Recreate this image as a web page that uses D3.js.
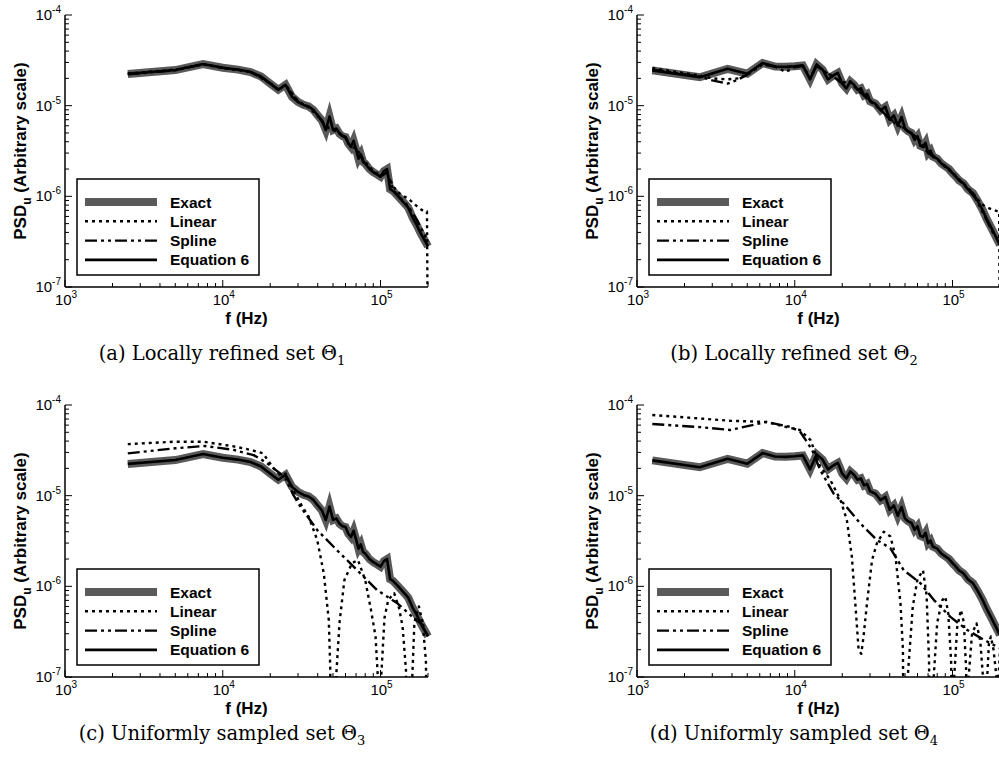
<!DOCTYPE html>
<html>
<head>
<meta charset="utf-8">
<script src="https://cdn.jsdelivr.net/npm/d3@7"></script>
<style>
  body { margin: 0; background: #fff; }
  text { font-family: "Liberation Sans", Arial, sans-serif; }
  text.caption { font-family: "DejaVu Serif", serif; }
</style>
</head>
<body>
<script>
// ---- data (frequency in Hz, PSD in arbitrary units) ----
// "exact" spectrum on the 2500 Hz grid, panels (a) and (c)
var freqCoarse = [2500, 5000, 7500, 10000, 12500, 15000, 17500, 20000, 22500, 25000, 27500, 30000,
  32500, 35000, 37500, 40000, 42500, 45000, 47500, 50000, 52500, 55000, 57500, 60000, 62500, 65000,
  67500, 70000, 72500, 75000, 77500, 80000, 85000, 90000, 95000, 100000, 105000, 110000, 115000,
  120000, 130000, 140000, 150000, 160000, 170000, 180000, 190000, 200000];
var exactCoarse = [2.24e-5, 2.47e-5, 2.88e-5, 2.62e-5, 2.5e-5, 2.35e-5, 2.1e-5, 1.75e-5, 1.5e-5, 1.7e-5, 1.25e-5, 1.1e-5,
  1.02e-5, 9.8e-6, 9.0e-6, 7.8e-6, 6.9e-6, 5.4e-6, 7.6e-6, 5.4e-6, 5.6e-6, 4.9e-6, 4.6e-6, 4.5e-6, 3.8e-6, 3.5e-6,
  4.1e-6, 3.3e-6, 2.6e-6, 2.9e-6, 2.4e-6, 2.3e-6, 2.0e-6, 1.85e-6, 1.75e-6, 1.65e-6, 1.9e-6, 2.0e-6, 1.2e-6,
  1.15e-6, 9.9e-7, 8.6e-7, 7.5e-7, 5.8e-7, 4.8e-7, 3.9e-7, 3.3e-7, 2.8e-7];

// "exact" spectrum on the 1250 Hz grid, panels (b) and (d)
var freqFine = [1250, 2500, 3750, 5000, 6250, 7500, 8750, 10000, 11250, 12500, 13750, 15000, 16250,
  17500, 18750, 20000, 21250, 22500, 23750, 25000, 26250, 27500, 28750, 30000, 32500, 35000, 37500,
  40000, 42500, 45000, 47500, 50000, 52500, 55000, 57500, 60000, 62500, 65000, 67500, 70000, 72500,
  75000, 80000, 85000, 90000, 95000, 100000, 105000, 110000, 117500, 125000, 135000, 145000, 155000,
  165000, 175000, 185000, 200000];
var exactFine = [2.45e-5, 2.06e-5, 2.55e-5, 2.25e-5, 2.95e-5, 2.7e-5, 2.68e-5, 2.72e-5, 2.78e-5, 1.95e-5, 2.85e-5, 2.5e-5, 1.95e-5,
  2.15e-5, 2.3e-5, 1.75e-5, 1.55e-5, 1.85e-5, 1.7e-5, 1.5e-5, 1.55e-5, 1.3e-5, 1.35e-5, 1.12e-5, 1.05e-5, 8.9e-6, 9.7e-6,
  7.0e-6, 7.8e-6, 6.0e-6, 7.5e-6, 5.6e-6, 5.2e-6, 5.0e-6, 4.2e-6, 4.6e-6, 3.6e-6, 3.5e-6, 3.9e-6, 3.0e-6, 3.2e-6,
  2.75e-6, 2.6e-6, 2.3e-6, 2.14e-6, 2.0e-6, 1.8e-6, 1.65e-6, 1.5e-6, 1.39e-6, 1.2e-6, 1.08e-6, 8.8e-7, 7.1e-7,
  5.6e-7, 4.6e-7, 3.8e-7, 2.9e-7];

// panel (a)
var linearAF = [2500, 5000, 7500, 10000, 15000, 20000, 22500, 25000, 30000, 35000, 40000, 45000, 50000, 55000,
  60000, 65000, 70000, 80000, 90000, 100000, 110000, 120000, 130000, 140000, 150000, 160000, 170000, 180000,
  190000, 197000, 200000];
var linearAV = [2.26e-5, 2.5e-5, 2.85e-5, 2.6e-5, 2.38e-5, 1.78e-5, 1.52e-5, 1.7e-5, 1.12e-5, 9.6e-6, 7.7e-6, 6.0e-6,
  5.5e-6, 5.0e-6, 4.4e-6, 3.5e-6, 3.4e-6, 2.4e-6, 1.9e-6, 1.7e-6, 1.8e-6, 1.3e-6, 1.1e-6, 1.0e-6, 9.5e-7, 8.5e-7,
  7.8e-7, 7.2e-7, 6.8e-7, 6.8e-7, 1e-8];
var splineAF = [2500, 5000, 7500, 10000, 15000, 20000, 22500, 25000, 30000, 35000, 40000, 45000, 50000, 55000,
  60000, 65000, 70000, 80000, 90000, 100000, 110000, 120000, 130000, 140000, 150000, 160000, 170000, 180000,
  190000, 200000];
var splineAV = [2.22e-5, 2.45e-5, 2.86e-5, 2.62e-5, 2.36e-5, 1.76e-5, 1.5e-5, 1.68e-5, 1.1e-5, 9.7e-6, 7.8e-6, 5.8e-6,
  5.4e-6, 4.9e-6, 4.5e-6, 3.5e-6, 3.3e-6, 2.3e-6, 1.85e-6, 1.65e-6, 1.85e-6, 1.2e-6, 1.0e-6, 8.8e-7, 7.8e-7, 6.5e-7,
  5.5e-7, 4.5e-7, 3.8e-7, 3.2e-7];

// panel (b)
var linearBF = [1250, 2500, 3000, 3750, 4400, 5000, 6250, 7500, 8750, 10000, 11250, 12500, 13750, 15000, 17500,
  20000, 22500, 25000, 30000, 35000, 40000, 45000, 50000, 55000, 60000, 70000, 80000, 90000, 100000, 110000,
  125000, 140000, 150000, 160000, 170000, 180000, 190000, 197500, 200000];
var linearBV = [2.6e-5, 2.15e-5, 2.0e-5, 1.95e-5, 2.0e-5, 2.2e-5, 2.9e-5, 2.7e-5, 2.65e-5, 2.7e-5, 2.75e-5, 2.0e-5,
  2.8e-5, 2.45e-5, 2.1e-5, 1.8e-5, 1.85e-5, 1.5e-5, 1.15e-5, 9.0e-6, 7.2e-6, 6.2e-6, 5.6e-6, 4.9e-6, 4.4e-6, 3.1e-6,
  2.6e-6, 2.15e-6, 1.85e-6, 1.55e-6, 1.25e-6, 1.0e-6, 8.5e-7, 7.8e-7, 7.4e-7, 7.1e-7, 6.9e-7, 6.8e-7, 1e-8];
var splineBF = [1250, 2500, 3000, 3750, 4400, 5000, 6250, 7500, 8750, 10000, 11250, 12500, 13750, 15000, 17500,
  20000, 22500, 25000, 30000, 35000, 40000, 45000, 50000, 60000, 70000, 80000, 90000, 100000, 120000, 140000,
  160000, 180000, 200000];
var splineBV = [2.5e-5, 2.1e-5, 1.9e-5, 1.75e-5, 1.95e-5, 2.2e-5, 2.85e-5, 2.7e-5, 2.35e-5, 2.65e-5, 2.75e-5, 2.0e-5,
  2.75e-5, 2.45e-5, 2.1e-5, 1.75e-5, 1.8e-5, 1.5e-5, 1.12e-5, 9.0e-6, 7.1e-6, 6.1e-6, 5.5e-6, 4.4e-6, 3.0e-6, 2.55e-6,
  2.1e-6, 1.8e-6, 1.3e-6, 9.5e-7, 6.0e-7, 4.0e-7, 3.1e-7];

// panel (c)
var linearCF = [2500, 5000, 7500, 11700, 15000, 18000, 21000, 23000, 25000, 28000, 32000, 35000, 39700, 43700,
  47000, 48000, 49000, 52500, 55000, 59000, 66000, 72000, 80000, 87000, 93000, 96500, 98500, 101000, 106000,
  112000, 122000, 131000, 138000, 145000, 148000, 159000, 164000, 175000, 185000, 194000, 200000];
var linearCV = [3.7e-5, 3.94e-5, 3.94e-5, 3.5e-5, 3.2e-5, 2.93e-5, 2.0e-5, 1.7e-5, 1.75e-5, 1.15e-5, 7.5e-6, 5.9e-6,
  3.24e-6, 1.39e-6, 4.25e-7, 1.3e-7, 1e-9, 1.1e-7, 4e-7, 1.17e-6, 1.8e-6, 1.95e-6, 1.17e-6, 5.5e-7, 2.8e-7, 9e-8,
  1e-9, 1e-7, 4.5e-7, 7.1e-7, 8.4e-7, 5.8e-7, 3.6e-7, 1.2e-7, 1e-9, 1e-7, 4e-7, 6e-7, 4e-7, 1.5e-7, 1e-9];
var splineCF = [2500, 5000, 7700, 11700, 15700, 19000, 23000, 25000, 28000, 31000, 39700, 53000, 71000, 95000,
  128000, 163000, 198000];
var splineCV = [2.93e-5, 3.33e-5, 3.53e-5, 3.2e-5, 2.8e-5, 2.3e-5, 1.77e-5, 1.55e-5, 1.02e-5, 7.6e-6, 4.17e-6,
  2.5e-6, 1.51e-6, 9.1e-7, 6.5e-7, 4.44e-7, 3.44e-7];

// panel (d)
var linearDF = [1250, 2500, 3900, 6600, 8500, 10800, 12600, 14500, 16800, 19500, 21400, 23000, 24200, 25400,
  26400, 27300, 28700, 30900, 33200, 36700, 40400, 43500, 46800, 48500, 49500, 52000, 56000, 60000, 65000,
  68500, 71000, 72500, 76000, 80000, 86000, 90000, 94000, 98000, 100500, 102500, 107000, 113000, 118000,
  122000, 124000, 126500, 133000, 142000, 150000, 156000, 158000, 166000, 170000, 175000, 182000, 190000,
  193000, 196000, 200000];
var linearDV = [7.75e-5, 7.1e-5, 6.7e-5, 6.5e-5, 5.8e-5, 5.3e-5, 4.1e-5, 2.09e-5, 1.49e-5, 8.95e-6, 5.37e-6, 2.14e-6,
  6.5e-7, 2e-7, 1.8e-7, 2.8e-7, 6.5e-7, 1.95e-6, 3.0e-6, 4.0e-6, 3.55e-6, 2.14e-6, 6.5e-7, 2e-7, 1e-9, 1e-7, 6e-7,
  1.2e-6, 1.5e-6, 8e-7, 1.5e-7, 1e-9, 1e-7, 4e-7, 7e-7, 7.7e-7, 5e-7, 1.5e-7, 1e-9, 1e-7, 3.5e-7, 5.5e-7, 4e-7,
  1.2e-7, 1e-9, 1e-7, 3e-7, 3.9e-7, 2.5e-7, 1e-7, 1e-9, 1e-7, 2.3e-7, 2.8e-7, 2e-7, 1e-7, 1e-9, 1e-7, 2e-7];
var splineDF = [1250, 2500, 3900, 6600, 9300, 10800, 12900, 14500, 17600, 20400, 26000, 33200, 40400, 49000,
  62700, 76000, 97000, 124000, 158000, 198000];
var splineDV = [6.17e-5, 5.7e-5, 5.3e-5, 6.5e-5, 5.75e-5, 5.1e-5, 3.19e-5, 1.92e-5, 1.06e-5, 8.2e-6, 4.95e-6, 3.24e-6,
  2.63e-6, 1.51e-6, 1.08e-6, 7.1e-7, 4.6e-7, 3.3e-7, 2.57e-7, 2.1e-7];

var legendNames = ["Exact", "Linear", "Spline", "Equation 6"];
var captions = [
  ["(a)  Locally refined set \u0398", "1"],
  ["(b)  Locally refined set \u0398", "2"],
  ["(c)  Uniformly sampled set \u0398", "3"],
  ["(d)  Uniformly sampled set \u0398", "4"]
];

function zip(f, v) {
  return f.map(function(d, i) { return [d, v[i]]; });
}

var panels = [
  { x: 65,  y: 15,  capY: 360, exact: zip(freqCoarse, exactCoarse), linear: zip(linearAF, linearAV), spline: zip(splineAF, splineAV), eq6: zip(freqCoarse, exactCoarse), cap: captions[0] },
  { x: 637, y: 15,  capY: 360, exact: zip(freqFine, exactFine),     linear: zip(linearBF, linearBV), spline: zip(splineBF, splineBV), eq6: zip(freqFine, exactFine),     cap: captions[1] },
  { x: 65,  y: 405, capY: 740, exact: zip(freqCoarse, exactCoarse), linear: zip(linearCF, linearCV), spline: zip(splineCF, splineCV), eq6: zip(freqCoarse, exactCoarse), cap: captions[2] },
  { x: 637, y: 405, capY: 740, exact: zip(freqFine, exactFine),     linear: zip(linearDF, linearDV), spline: zip(splineDF, splineDV), eq6: zip(freqFine, exactFine),     cap: captions[3] }
];

var W = 999, H = 760;
var plotW = 363, plotH = 272;

var svg = d3.select("body").append("svg")
  .attr("width", W)
  .attr("height", H);

var x = d3.scaleLog().domain([1e3, 2e5]).range([0, plotW]);
var y = d3.scaleLog().domain([1e-7, 1e-4]).range([plotH, 0]);

var line = d3.line()
  .x(function(d) { return x(d[0]); })
  .y(function(d) { return y(Math.max(d[1], 1e-10)); });

var styles = {
  exact:  { stroke: "#5a5a5a", width: 8,   dash: null },
  linear: { stroke: "#000",    width: 2.4, dash: "3,4" },
  spline: { stroke: "#000",    width: 2.4, dash: "12,4,3,4,3,4" },
  eq6:    { stroke: "#000",    width: 2.6, dash: null }
};
var keys = ["exact", "linear", "spline", "eq6"];

// tick values
var xMajor = [1e3, 1e4, 1e5];
var xMinor = [];
[1e3, 1e4, 1e5].forEach(function(dec) {
  for (var k = 2; k <= 9; k++) if (k * dec <= 2e5) xMinor.push(k * dec);
});
var yMajor = [1e-7, 1e-6, 1e-5, 1e-4];
var yMinor = [];
[1e-7, 1e-6, 1e-5].forEach(function(dec) {
  for (var k = 2; k <= 9; k++) yMinor.push(k * dec);
});

panels.forEach(function(p, pi) {
  var g = svg.append("g").attr("transform", "translate(" + p.x + "," + p.y + ")");

  g.append("clipPath").attr("id", "clip" + pi)
    .append("rect").attr("x", 0).attr("y", -20).attr("width", plotW + 4).attr("height", plotH + 20);

  var plot = g.append("g").attr("clip-path", "url(#clip" + pi + ")");
  keys.forEach(function(k) {
    var s = styles[k];
    plot.append("path")
      .datum(p[k])
      .attr("d", line)
      .attr("fill", "none")
      .attr("stroke", s.stroke)
      .attr("stroke-width", s.width)
      .attr("stroke-dasharray", s.dash)
      .attr("stroke-linejoin", k == "exact" ? "miter" : "round")
      .attr("stroke-miterlimit", 6);
  });

  // axes lines
  g.append("line").attr("x1", 0).attr("x2", plotW).attr("y1", plotH).attr("y2", plotH)
    .attr("stroke", "#000").attr("stroke-width", 1.5);
  g.append("line").attr("x1", 0).attr("x2", 0).attr("y1", 0).attr("y2", plotH)
    .attr("stroke", "#000").attr("stroke-width", 1.5);

  // ticks (pointing inward)
  g.selectAll(".xt").data(xMajor.concat(xMinor)).enter().append("line")
    .attr("x1", function(d) { return x(d); }).attr("x2", function(d) { return x(d); })
    .attr("y1", plotH).attr("y2", function(d) { return plotH - (xMajor.indexOf(d) >= 0 ? 7 : 4); })
    .attr("stroke", "#000").attr("stroke-width", 1);
  g.selectAll(".yt").data(yMajor.concat(yMinor)).enter().append("line")
    .attr("y1", function(d) { return y(d); }).attr("y2", function(d) { return y(d); })
    .attr("x1", 0).attr("x2", function(d) { return yMajor.indexOf(d) >= 0 ? 7 : 4; })
    .attr("stroke", "#000").attr("stroke-width", 1);

  // tick labels
  xMajor.forEach(function(d) {
    var t = g.append("text")
      .attr("x", x(d) + 1).attr("y", plotH + 18)
      .attr("text-anchor", "middle")
      .attr("font-size", 15);
    t.append("tspan").text("10");
    t.append("tspan").attr("dy", -7).attr("font-size", 10).text(Math.round(Math.log10(d)));
  });
  yMajor.forEach(function(d) {
    var t = g.append("text")
      .attr("x", -4).attr("y", y(d) + 5)
      .attr("text-anchor", "end")
      .attr("font-size", 15);
    t.append("tspan").text("10");
    t.append("tspan").attr("dy", -7).attr("font-size", 10).text(Math.round(Math.log10(d)));
  });

  // axis titles
  g.append("text")
    .attr("x", plotW / 2).attr("y", plotH + 37)
    .attr("text-anchor", "middle")
    .attr("font-size", 17).attr("font-weight", "bold")
    .text("f (Hz)");

  var yl = g.append("text")
    .attr("transform", "translate(-39," + (plotH / 2) + ") rotate(-90)")
    .attr("text-anchor", "middle")
    .attr("font-size", 17).attr("font-weight", "bold");
  yl.append("tspan").text("PSD");
  yl.append("tspan").attr("dy", 5).attr("font-size", 12).text("u");
  yl.append("tspan").attr("dy", -5).text(" (Arbitrary scale)");

  // legend
  var lg = g.append("g").attr("transform", "translate(12,164)");
  lg.append("rect").attr("width", 182).attr("height", 96)
    .attr("fill", "#fff").attr("stroke", "#000").attr("stroke-width", 1.5);
  keys.forEach(function(k, i) {
    var s = styles[k];
    var ly = 23 + i * 19.3;
    lg.append("line")
      .attr("x1", 8).attr("x2", 80).attr("y1", ly).attr("y2", ly)
      .attr("stroke", s.stroke).attr("stroke-width", s.width)
      .attr("stroke-dasharray", s.dash);
    lg.append("text")
      .attr("x", 93).attr("y", ly + 5.5)
      .attr("font-size", 15.5).attr("font-weight", "bold")
      .text(legendNames[i]);
  });

  // caption
  var c = svg.append("text")
    .attr("class", "caption")
    .attr("x", p.x + 157).attr("y", p.capY)
    .attr("text-anchor", "middle")
    .attr("font-size", 19.5);
  c.append("tspan").text(p.cap[0]);
  c.append("tspan").attr("dy", 5).attr("font-size", 13).text(p.cap[1]);
});
</script>
</body>
</html>
